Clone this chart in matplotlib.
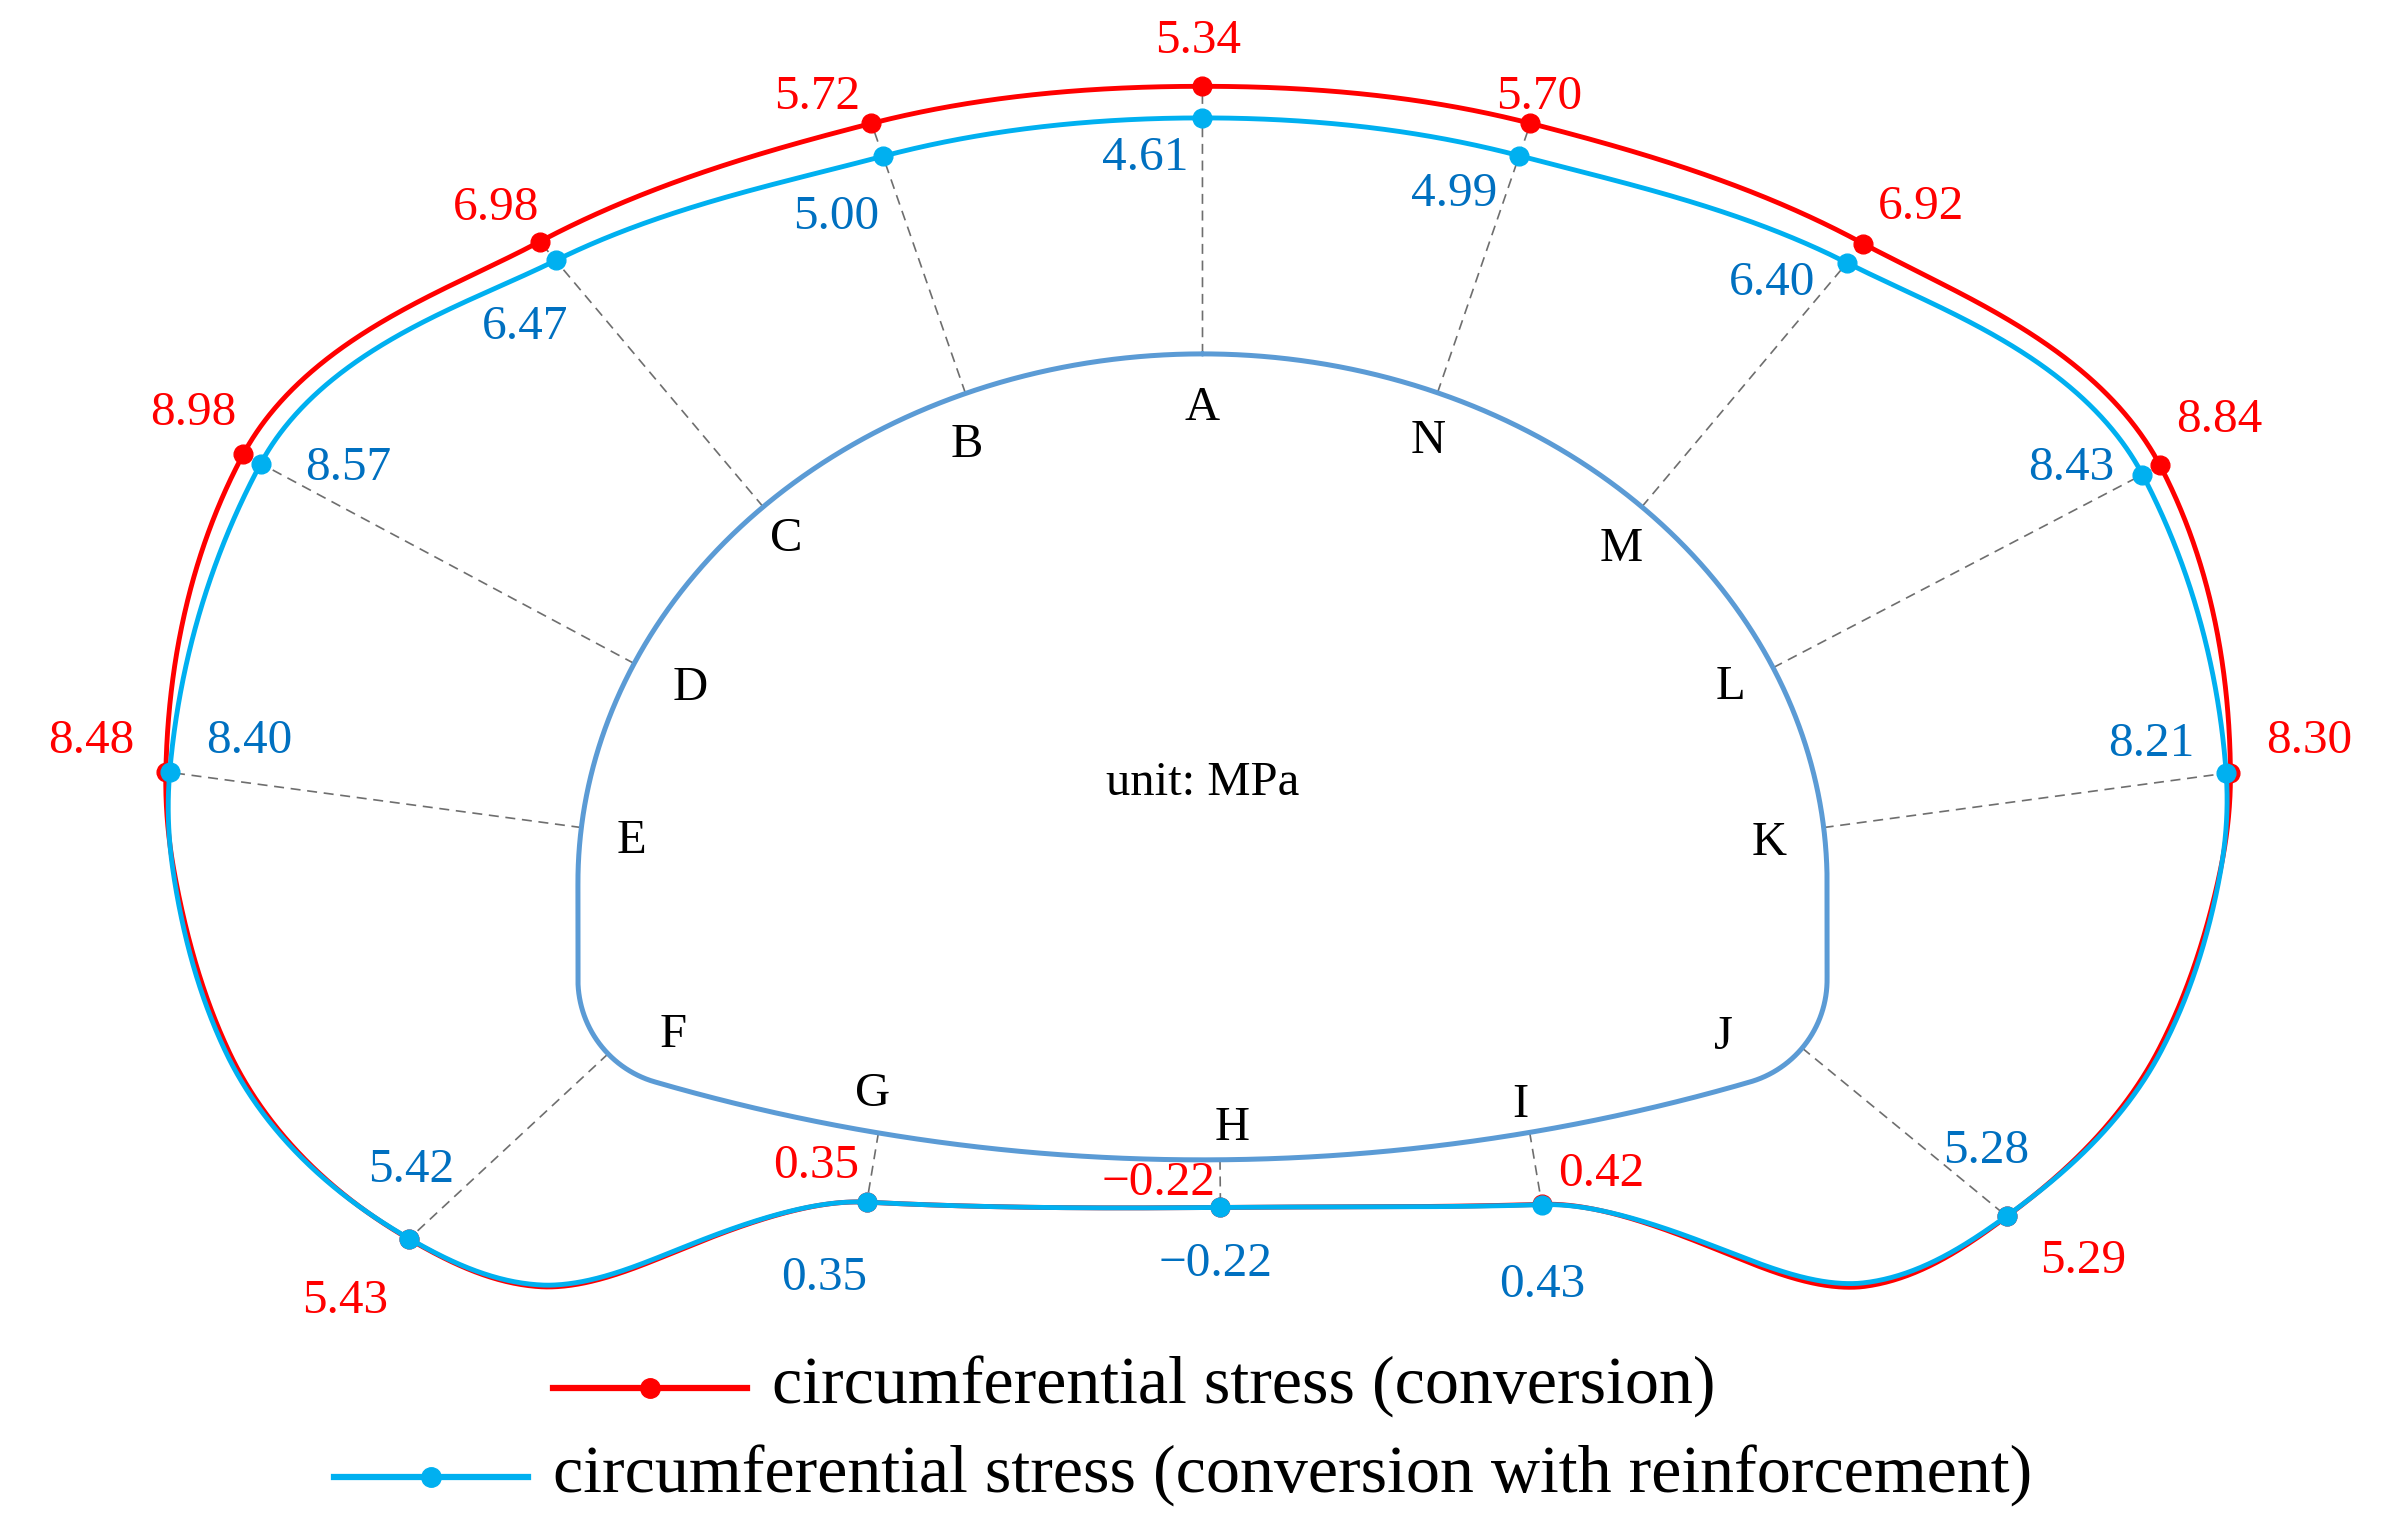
import numpy as np
import matplotlib
matplotlib.use("Agg")
import matplotlib.pyplot as plt

# ---------------- data ----------------
point_names = ["A", "B", "C", "D", "E", "F", "G", "H", "I", "J", "K", "L", "M", "N"]
stress_conversion = [5.34, 5.72, 6.98, 8.98, 8.48, 5.43, 0.35, -0.22, 0.42, 5.29, 8.30, 8.84, 6.92, 5.70]
stress_reinforced = [4.61, 5.00, 6.47, 8.57, 8.40, 5.42, 0.35, -0.22, 0.43, 5.28, 8.21, 8.43, 6.40, 4.99]
# unlabelled curve points (invert corners)
extra_conversion = [4.55, 4.55]
extra_reinforced = [4.50, 4.45]
series_names = ["circumferential stress (conversion)",
                "circumferential stress (conversion with reinforcement)"]
unit_text = "unit: MPa"

# ---------------- geometry of the tunnel outline (drawing units) ----------------
CX, CY = 790.25, 580.0          # centre of the upper elliptical arch
RA, RB = 410.45, 347.5          # half width / rise of the arch
YB, RARCH, RF = 762.0, 1290.0, 70.0   # invert bottom, invert radius, corner radius
# where each measuring point sits on the outline
anchor_spec = [("ell", 90), ("ell", 112.3), ("ell", 134.7), ("ell", 155.5), ("ell", 174.0),
               ("filL", 44.2), ("arch", -213.0), ("arch", 11.5), ("arch", 215.0), ("filR", 40.0),
               ("ell", 6.0), ("ell", 24.0), ("ell", 45.3), ("ell", 67.9)]
extra_spec = [("filL", 72.0), ("filR", 72.0)]

# stress -> offset from the outline (radial scale)
stress_knots = [-0.5, 0.5, 5.0, 9.0]
offset_knots = [24.0, 50.0, 165.0, 292.0]
NORMAL_SMOOTH = 38.0   # arc-length smoothing of the offset direction
C_TURN = 280.0         # weight of turning angle in the interpolation parameter

# styling / label placement (offsets in drawing units)
red_label_off = [(-3, -33), (-36, -20), (-28.5, -25), (-33, -30), (-49, -23), (-42, 38), (-33, -26.5),
                 (-40.5, -19), (39, -23), (50, 26), (52, -24), (39, -33), (38, -27), (6, -20)]
cyan_label_off = [(-37.5, 23.5), (-31, 37), (-20, 40.6), (57.5, 0), (52, -23.4), (1, -47.7), (-28, 47),
                  (-3, 34), (0, 50), (-13.6, -46), (-49, -22), (-47, -7), (-49, 10), (-43, 22)]
letter_off = [(0, 32.5), (1, 31), (15, 18), (36.5, 13.3), (33, 5.7), (43, -15.3), (-4, -28.5),
              (7.7, -23.8), (-6, -21), (-51.5, -10.2), (-36, 7.3), (-27.7, 10), (-13.6, 25), (-6.2, 28.7)]

RED = "#FF0000"
CYAN = "#00B0F0"
CYAN_TXT = "#0070C0"
OUTLINE = "#5B9BD5"
DASH = "#6E6E6E"
VAL_FS, LET_FS, UNIT_FS, LEG_FS = 35.5, 35, 35, 49

plt.rcParams["font.family"] = ["Liberation Serif", "DejaVu Serif"]

W, H = 1568.0, 994.0
fig = plt.figure(figsize=(23.86, 15.13), dpi=100)
ax = fig.add_axes([0, 0, 1, 1])
ax.set_xlim(0, W)
ax.set_ylim(H, 0)
ax.axis("off")

UNIT_PER_PT = (100.0 / 72.0) * (H / 1513.0)


def put_text(x, y, s, size, color, ha="center"):
    em = size * UNIT_PER_PT
    ax.text(x, y + 0.335 * em, s, fontsize=size, color=color, ha=ha, va="baseline", zorder=10)


# ---------------- build outline polyline ----------------
ARC_CY = YB - RARCH
ycF = ARC_CY + np.sqrt((RARCH - RF) ** 2 - (RA - RF) ** 2)
psi_end = np.degrees(np.arctan2(ycF - ARC_CY, -(RA - RF)))   # ~106 deg
xL, xR = CX - RA, CX + RA
cL = (xL + RF, ycF)
cR = (xR - RF, ycF)


def ell(t):
    t = np.radians(t)
    return np.c_[CX + RA * np.cos(t), CY - RB * np.sin(t)]


def fil(c, phi):
    phi = np.radians(phi)
    return np.c_[c[0] + RF * np.cos(phi), c[1] + RF * np.sin(phi)]


def arc(psi):
    psi = np.radians(psi)
    return np.c_[CX + RARCH * np.cos(psi), ARC_CY + RARCH * np.sin(psi)]


segs = [
    ell(np.linspace(90, 180, 600)),
    np.c_[np.full(50, xL), np.linspace(CY, ycF, 50)],
    fil(cL, np.linspace(180, psi_end, 200)),
    arc(np.linspace(psi_end, 180 - psi_end, 600)),
    fil(cR, np.linspace(180 - psi_end, 0, 200)),
    np.c_[np.full(50, xR), np.linspace(ycF, CY, 50)],
    ell(np.linspace(0, 90, 600)),
]
poly = np.vstack(segs)
keep = np.r_[True, np.hypot(*np.diff(poly, axis=0).T) > 1e-9]
poly = poly[keep]
if np.hypot(*(poly[-1] - poly[0])) < 1e-6:
    poly = poly[:-1]
closed = np.vstack([poly, poly[:1]])
seglen = np.hypot(*np.diff(closed, axis=0).T)
cum = np.r_[0, np.cumsum(seglen)]
L = cum[-1]
ds = 0.5
su = np.arange(0, L, ds)
P = np.c_[np.interp(su, cum, closed[:, 0]), np.interp(su, cum, closed[:, 1])]
k = 4
T = np.roll(P, -k, axis=0) - np.roll(P, k, axis=0)
T /= np.hypot(T[:, 0], T[:, 1])[:, None]
Nrm = np.c_[T[:, 1], -T[:, 0]]
sign = np.sign(np.sum(Nrm * (P - np.array([CX, 600.0])), axis=1))
Nrm *= sign[:, None]

# circular gaussian smoothing of the normal field
sig = NORMAL_SMOOTH / ds
half = int(4 * sig)
kern = np.exp(-0.5 * (np.arange(-half, half + 1) / sig) ** 2)
kern /= kern.sum()
ext = np.vstack([Nrm[-half:], Nrm, Nrm[:half]])
Ns = np.c_[np.convolve(ext[:, 0], kern, mode="valid"), np.convolve(ext[:, 1], kern, mode="valid")]
Ns /= np.hypot(Ns[:, 0], Ns[:, 1])[:, None]

# interpolation parameter: arc length + weighted turning of the direction
ang = np.arctan2(Ns[:, 1], Ns[:, 0])
dang = np.abs(np.angle(np.exp(1j * (np.roll(ang, -1) - ang))))
du = ds + C_TURN * dang
u = np.r_[0, np.cumsum(du)[:-1]]
U = du.sum()


def anchor_point(kind, p):
    if kind == "ell":
        return ell(np.array([p]))[0]
    if kind == "filL":
        return fil(cL, np.array([180 - p]))[0]
    if kind == "filR":
        return fil(cR, np.array([p]))[0]
    return np.array([CX + p, ARC_CY + np.sqrt(RARCH ** 2 - p ** 2)])


def nearest_index(pts):
    return np.array([np.argmin(np.hypot(P[:, 0] - a[0], P[:, 1] - a[1])) for a in pts])


anchors = np.array([anchor_point(k_, p_) for k_, p_ in anchor_spec])
idx = nearest_index(anchors)
extra_pts = np.array([anchor_point(k_, p_) for k_, p_ in extra_spec])
idx_extra = nearest_index(extra_pts)


def periodic_pchip(sk, yk, period, s):
    n = len(sk)
    sx = np.r_[sk, sk[0] + period]
    yx = np.r_[yk, yk[0]]
    h = np.diff(sx)
    dl = np.diff(yx) / h
    m = np.zeros(n)
    for i in range(n):
        a, b = dl[i - 1], dl[i]
        ha, hb = h[i - 1], h[i]
        if a * b <= 0:
            m[i] = 0.0
        else:
            w1, w2 = 2 * hb + ha, hb + 2 * ha
            m[i] = (w1 + w2) / (w1 / a + w2 / b)
    mx = np.r_[m, m[0]]
    s = np.mod(s - sk[0], period) + sk[0]
    j = np.clip(np.searchsorted(sx, s, side="right") - 1, 0, n - 1)
    t = (s - sx[j]) / h[j]
    h00 = 2 * t ** 3 - 3 * t ** 2 + 1
    h10 = t ** 3 - 2 * t ** 2 + t
    h01 = -2 * t ** 3 + 3 * t ** 2
    h11 = t ** 3 - t ** 2
    return h00 * yx[j] + h10 * h[j] * mx[j] + h01 * yx[j + 1] + h11 * h[j] * mx[j + 1]


def stress_curve(values, extra_values):
    d_anchor = np.interp(values, stress_knots, offset_knots)
    d_extra = np.interp(extra_values, stress_knots, offset_knots)
    knots_u = np.r_[u[idx], u[idx_extra]]
    knots_d = np.r_[d_anchor, d_extra]
    order = np.argsort(knots_u)
    d = periodic_pchip(knots_u[order], knots_d[order], U, u)
    curve = P + Ns * d[:, None]
    pts = anchors + Ns[idx] * d_anchor[:, None]
    return np.vstack([curve, curve[:1]]), pts, d_anchor


red_curve, red_pts, red_d = stress_curve(np.array(stress_conversion), np.array(extra_conversion))
cyan_curve, cyan_pts, cyan_d = stress_curve(np.array(stress_reinforced), np.array(extra_reinforced))

# dashed leader lines
for i in range(len(point_names)):
    dmax = max(red_d[i], cyan_d[i])
    end = anchors[i] + Ns[idx[i]] * dmax
    ax.plot([anchors[i][0], end[0]], [anchors[i][1], end[1]], color=DASH, lw=1.2,
            dashes=(6, 4), zorder=1)

# tunnel outline
outline = np.vstack([P, P[:1]])
ax.plot(outline[:, 0], outline[:, 1], color=OUTLINE, lw=3.6, zorder=2, solid_capstyle="round")

# stress curves
ax.plot(red_curve[:, 0], red_curve[:, 1], color=RED, lw=3.5, zorder=3)
ax.plot(red_pts[:, 0], red_pts[:, 1], "o", color=RED, ms=13.5, zorder=4)
ax.plot(cyan_curve[:, 0], cyan_curve[:, 1], color=CYAN, lw=3.5, zorder=5)
ax.plot(cyan_pts[:, 0], cyan_pts[:, 1], "o", color=CYAN, ms=13.5, zorder=6)


def fmt(v):
    return f"{v:.2f}".replace("-", "\u2212")


for i, name in enumerate(point_names):
    put_text(anchors[i][0] + letter_off[i][0], anchors[i][1] + letter_off[i][1], name, LET_FS, "black")
    put_text(red_pts[i][0] + red_label_off[i][0], red_pts[i][1] + red_label_off[i][1],
             fmt(stress_conversion[i]), VAL_FS, RED)
    put_text(cyan_pts[i][0] + cyan_label_off[i][0], cyan_pts[i][1] + cyan_label_off[i][1],
             fmt(stress_reinforced[i]), VAL_FS, CYAN_TXT)

put_text(790.3, 511.5, unit_text, UNIT_FS, "black")

# legend (drawn manually to reproduce the centred rows)
leg_rows = [(RED, 363.2, 490.7, 912.0, 507.2), (CYAN, 219.8, 347.3, 970.6, 363.2)]
for (col, x0, x1, y, xt), label in zip(leg_rows, series_names):
    ax.plot([x0, x1], [y, y], color=col, lw=4.5, zorder=5)
    ax.plot([(x0 + x1) / 2], [y], "o", color=col, ms=14, zorder=6)
    em = LEG_FS * UNIT_PER_PT
    ax.text(xt, y + 0.23 * em, label, fontsize=LEG_FS, color="black", ha="left", va="baseline")

fig.savefig("out.png", dpi=100)
